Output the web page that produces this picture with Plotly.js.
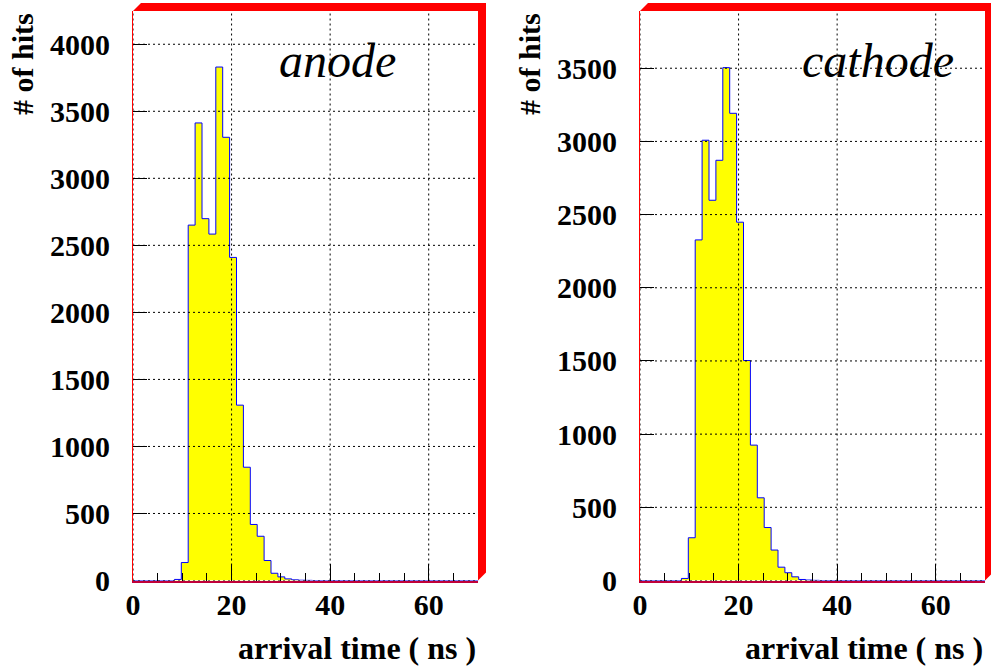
<!DOCTYPE html>
<html>
<head>
<meta charset="utf-8">
<script src="https://cdn.plot.ly/plotly-3.0.1.min.js"></script>
<style>
  html, body { margin: 0; padding: 0; background: #fff; }
  #chart { width: 991px; height: 669px; }
</style>
</head>
<body>
<div id="chart"></div>
<script>
// ---------------- data ----------------
const BIN_WIDTH = 1.4;
const N_BINS = 50;
const X_RANGE = [0, 70];

const anodeCounts = [
  0, 0, 0, 0, 0, 0, 8, 134, 2651, 3413,
  2699, 2584, 3830, 3306, 2410, 1308, 845, 418, 330, 149,
  54, 27, 12, 5, 2, 1, 0, 0, 0, 0,
  0, 0, 0, 0, 0, 0, 0, 0, 0, 0,
  0, 0, 0, 0, 0, 0, 0, 0, 0, 0
];
const cathodeCounts = [
  0, 0, 0, 0, 0, 0, 14, 292, 2327, 3008,
  2598, 2871, 3504, 3192, 2448, 1503, 925, 565, 362, 208,
  91, 53, 25, 7, 3, 1, 0, 0, 0, 0,
  0, 0, 0, 0, 0, 0, 0, 0, 0, 0,
  0, 0, 0, 0, 0, 0, 0, 0, 0, 0
];

const xTickVals = [0, 20, 40, 60];
const anodeYTicks = [0, 500, 1000, 1500, 2000, 2500, 3000, 3500, 4000];
const cathodeYTicks = [0, 500, 1000, 1500, 2000, 2500, 3000, 3500];
const anodeYMax = 4248;
const cathodeYMax = 3891;

const panelLabels = ['anode', 'cathode'];
const xTitle = 'arrival time ( ns )';
const yTitle = '# of hits';

// ---------------- layout helpers ----------------
const W = 991, H = 669;
const px = x => x / W;
const py = y => 1 - y / H;

const binEdges = Array.from({length: N_BINS + 1}, (_, i) => +(i * BIN_WIDTH).toFixed(3));

function stepTrace(counts, xa, ya) {
  return {
    type: 'scatter', mode: 'lines',
    x: binEdges,
    y: counts.concat([counts[counts.length - 1]]),
    line: {shape: 'hv', color: '#0000ff', width: 1},
    fill: 'tozeroy', fillcolor: '#ffff00',
    xaxis: xa, yaxis: ya, hoverinfo: 'skip', showlegend: false
  };
}

const serif = '"Times New Roman", "Liberation Serif", "DejaVu Serif", serif';
const tickFont = {family: serif, size: 30, color: '#000', weight: 'bold'};

function xAxis(dom, anchor) {
  return {
    domain: dom, anchor: anchor, range: X_RANGE,
    tickvals: xTickVals, ticktext: xTickVals.map(String),
    ticks: 'inside', ticklen: 17, tickwidth: 1, tickcolor: '#000',
    minor: {dtick: 5, tick0: 0, ticks: 'inside', ticklen: 8, tickwidth: 1, tickcolor: '#000', showgrid: false},
    showgrid: false, zeroline: false,
    showline: true, linecolor: '#c0003a', linewidth: 2,
    tickfont: tickFont, ticklabelstandoff: -4, automargin: false, fixedrange: true
  };
}
function yAxis(dom, anchor, ymax, ticks) {
  return {
    domain: dom, anchor: anchor, range: [0, ymax],
    tickvals: ticks, ticktext: ticks.map(String),
    ticks: 'inside', ticklen: 14, tickwidth: 1, tickcolor: '#000',
    showgrid: false, zeroline: false,
    showline: true, linecolor: '#ff0000', linewidth: 1,
    tickfont: tickFont, ticklabelstandoff: 16, automargin: false, fixedrange: true
  };
}

const yDom = [py(580.5), py(11)];
const panels = [
  {xl: 133, xr: 478, xa: 'x', ya: 'y', counts: anodeCounts, ymax: anodeYMax, yticks: anodeYTicks},
  {xl: 640, xr: 985, xa: 'x2', ya: 'y2', counts: cathodeCounts, ymax: cathodeYMax, yticks: cathodeYTicks}
];

const data = panels.map(p => stepTrace(p.counts, p.xa, p.ya));

const layout = {
  width: W, height: H,
  margin: {l: 0, r: 0, t: 0, b: 0},
  paper_bgcolor: '#ffffff', plot_bgcolor: '#ffffff',
  showlegend: false,
  font: {family: serif},
  xaxis: xAxis([px(133), px(478)], 'y'),
  yaxis: yAxis(yDom, 'x', anodeYMax, anodeYTicks),
  xaxis2: xAxis([px(640), px(985)], 'y2'),
  yaxis2: yAxis(yDom, 'x2', cathodeYMax, cathodeYTicks),
  shapes: [], annotations: []
};

const gridLine = {color: '#000', width: 1, dash: '2px,3px'};
panels.forEach((p, i) => {
  const xd = p.xa === 'x' ? 'x domain' : 'x2 domain';
  const yd = p.ya === 'y' ? 'y domain' : 'y2 domain';
  xTickVals.forEach(v => layout.shapes.push({
    type: 'line', xref: p.xa, yref: yd, x0: v, x1: v, y0: 0, y1: 1, line: gridLine, layer: 'above'
  }));
  p.yticks.forEach(v => layout.shapes.push({
    type: 'line', xref: xd, yref: p.ya, x0: 0, x1: 1, y0: v, y1: v, line: gridLine, layer: 'above'
  }));
  // red ROOT frame border (top + right with bevels)
  const b = 8, top = 11, bot = 580.5;
  const path = `M ${px(p.xl)},${py(top)} L ${px(p.xl + b)},${py(top - b)} L ${px(p.xr + b)},${py(top - b)} ` +
               `L ${px(p.xr + b)},${py(bot - b)} L ${px(p.xr)},${py(bot)} L ${px(p.xr)},${py(top)} Z`;
  layout.shapes.push({type: 'path', xref: 'paper', yref: 'paper', path: path,
    fillcolor: '#ff0000', line: {width: 0}, layer: 'above'});

  // panel label
  layout.annotations.push({
    xref: 'paper', yref: 'paper', x: px(p.xl + (i === 0 ? 204.5 : 237.5)), y: py(60),
    xanchor: 'center', yanchor: 'middle', showarrow: false, text: panelLabels[i],
    font: {family: serif, size: 48, color: '#000', style: 'italic'}
  });
  // x title
  layout.annotations.push({
    xref: 'paper', yref: 'paper', x: px(p.xr), y: py(648),
    xanchor: 'right', yanchor: 'middle', showarrow: false, text: xTitle,
    font: {family: serif, size: 32, color: '#000', weight: 'bold'}
  });
  // y title
  layout.annotations.push({
    xref: 'paper', yref: 'paper', x: px(p.xl - 110), y: py(11),
    xanchor: 'center', yanchor: 'top', showarrow: false, text: yTitle, textangle: -90,
    font: {family: serif, size: 30, color: '#000', weight: 'bold'}
  });
});

Plotly.newPlot('chart', data, layout, {displayModeBar: false, staticPlot: true});
</script>
</body>
</html>
